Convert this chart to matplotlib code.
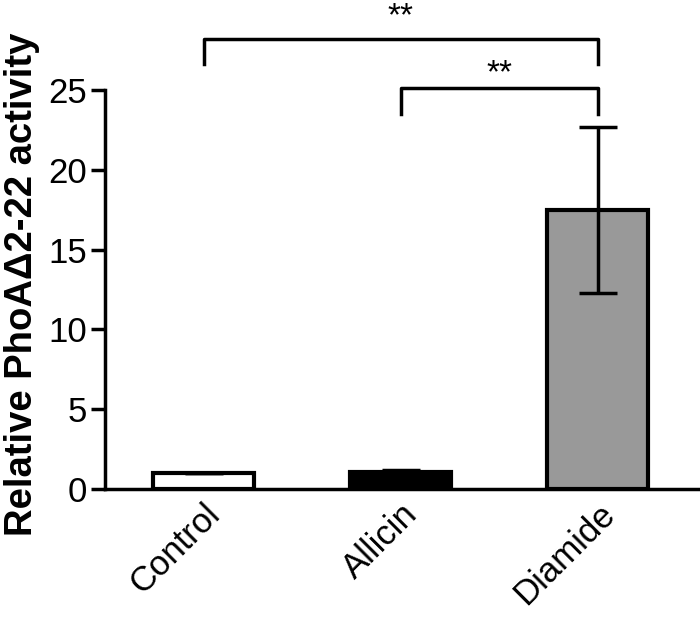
import matplotlib
matplotlib.use('Agg')
import matplotlib.pyplot as plt

plt.rcParams['font.family'] = ['Liberation Sans', 'DejaVu Sans']

groups = ['Control', 'Allicin', 'Diamide']
means = [1.0, 1.1, 17.5]
errs = [0.0, 0.1, 5.2]
colors = ['white', 'black', '#999999']
# significance brackets: (left group, right group, bar height, star height, label)
brackets = [(0, 2, 28.2, 29.6, '**'), (1, 2, 25.1, 26.0, '**')]

fig = plt.figure(figsize=(7, 6.2), dpi=100)
ax = fig.add_axes([0.15, 0.211, 0.85, 0.644])

x = list(range(len(groups)))
ax.bar(x, means, width=0.51, color=colors, edgecolor='black', linewidth=3,
       yerr=errs, error_kw=dict(ecolor='black', elinewidth=2.5, capsize=14, capthick=2.5))

ax.set_xlim(-0.5, 2.52)
ax.set_ylim(0, 25)
ax.set_yticks([0, 5, 10, 15, 20, 25])
ax.spines['top'].set_visible(False)
ax.spines['right'].set_visible(False)
ax.spines['left'].set_linewidth(2.5)
ax.spines['bottom'].set_linewidth(2.5)
ax.tick_params(axis='y', width=2.5, length=10, labelsize=25, pad=3)
ax.tick_params(axis='x', length=0, labelsize=25, pad=6)
ax.set_xticks(x)
ax.set_xticklabels(groups, rotation=45, ha='right', rotation_mode='anchor')

fig.text(0.032, 0.542, 'Relative PhoA\u03942-22 activity', rotation=90, ha='center', va='center',
         fontsize=27.5, fontweight='bold')

for a, b, h, hs, lab in brackets:
    ax.plot([a, a, b, b], [h - 1.6, h, h, h - 1.6], color='black', lw=2.5, clip_on=False)
    ax.text((a + b) / 2, hs, lab, ha='center', va='center', fontsize=24, clip_on=False)

fig.savefig('out.png', dpi=100)
